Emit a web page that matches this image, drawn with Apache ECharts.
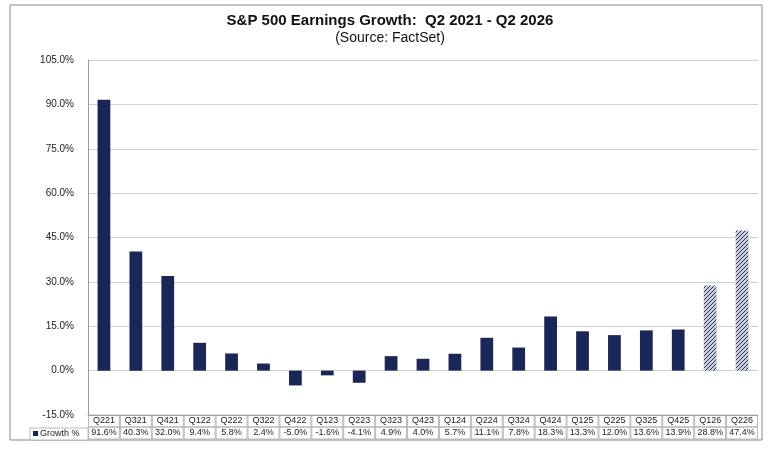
<!DOCTYPE html>
<html><head><meta charset="utf-8">
<script src="https://cdn.jsdelivr.net/npm/echarts@6/dist/echarts.min.js"></script>
<style>html,body{margin:0;padding:0;background:#fff}#c{width:780px;height:468px}</style>
</head><body><div id="c"></div>
<script>
const categories = ["Q221","Q321","Q421","Q122","Q222","Q322","Q422","Q123","Q223","Q323","Q423","Q124","Q224","Q324","Q424","Q125","Q225","Q325","Q425","Q126","Q226"];
const growth = [91.6,40.3,32.0,9.4,5.8,2.4,-5.0,-1.6,-4.1,4.9,4.0,5.7,11.1,7.8,18.3,13.3,12.0,13.6,13.9,28.8,47.4];
const estimated = ["Q126","Q226"];
const yTicks = {min:-15, max:105, interval:15};

const cv = document.createElement('canvas'); cv.width = 4; cv.height = 4;
const g = cv.getContext('2d');
g.fillStyle = '#c9cedb'; g.fillRect(0,0,4,4);
g.fillStyle = '#2a3566';
for (let i=0;i<4;i++){ g.fillRect(i,3-i,1,1); }
const navy = '#1c2656';

const colW = 670/categories.length;
const chart = echarts.init(document.getElementById('c'));
chart.setOption({
  animation:false,
  title:{text:'S&P 500 Earnings Growth:  Q2 2021 - Q2 2026', subtext:'(Source: FactSet)', left:'center', top:8, itemGap:3,
    textStyle:{fontFamily:'Liberation Sans',fontWeight:'bold',fontSize:15,color:'#111'},
    subtextStyle:{fontFamily:'Liberation Sans',fontSize:14,color:'#111'}},
  graphic:[
    {type:'rect',shape:{x:10,y:5,width:752,height:435},style:{fill:'none',stroke:'#888',lineWidth:1}},
    {type:'rect',shape:{x:30,y:428,width:58,height:12},style:{fill:'#fff',stroke:'#aaa',lineWidth:0.8}},
    {type:'rect',shape:{x:33,y:431,width:5,height:5},style:{fill:navy}},
    {type:'text',x:40,y:429,style:{text:'Growth %',fontFamily:'Liberation Sans',fontSize:9,fill:'#222'}}
  ],
  grid:{left:88,right:22,top:60,bottom:53},
  xAxis:{type:'category',data:categories,axisTick:{show:false},
    axisLine:{show:true,onZero:false,lineStyle:{color:'#999'}},
    axisLabel:{interval:0,margin:0,
      formatter:(v,i)=>'{a|'+v+'}\n{b|'+growth[i].toFixed(1)+'%}',
      rich:{a:{width:colW-1,height:12,align:'center',borderColor:'#aaa',borderWidth:0.8,fontSize:9,fontFamily:'Liberation Sans',color:'#222'},
            b:{width:colW-1,height:12,align:'center',borderColor:'#aaa',borderWidth:0.8,fontSize:9,fontFamily:'Liberation Sans',color:'#222'}}}},
  yAxis:{type:'value',min:yTicks.min,max:yTicks.max,interval:yTicks.interval,
    axisLine:{show:true,lineStyle:{color:'#999'}},axisTick:{show:false},
    axisLabel:{formatter:v=>v.toFixed(1)+'%',fontFamily:'Liberation Sans',fontSize:10,color:'#222',margin:14},
    splitLine:{lineStyle:{color:'#d0d0d0'}}},
  series:[{type:'bar',barWidth:'40%',
    data:growth.map((v,i)=>({value:v,itemStyle:{color:estimated.includes(categories[i])?{image:cv,repeat:'repeat'}:navy}}))}]
});
</script></body></html>
